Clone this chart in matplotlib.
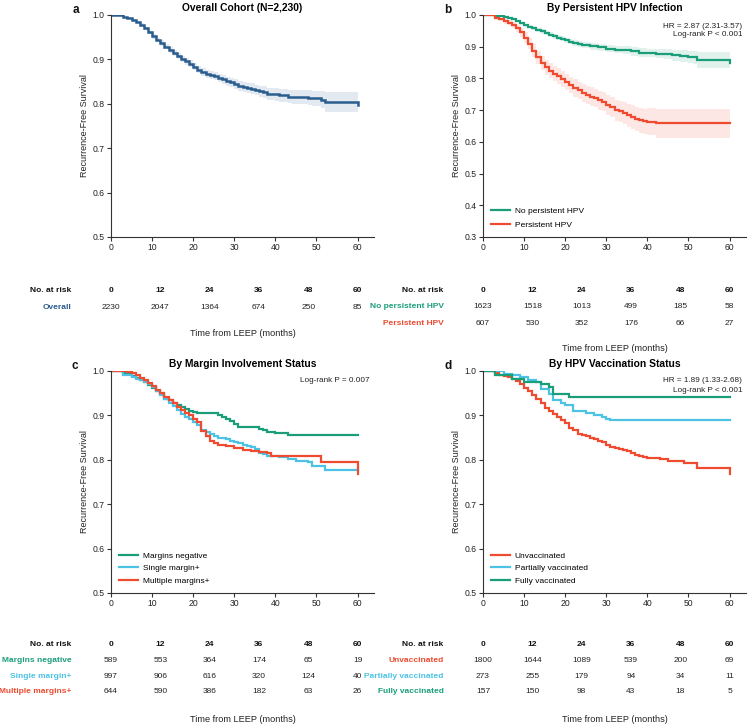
import matplotlib
matplotlib.use("Agg")
import matplotlib.pyplot as plt
from matplotlib.transforms import blended_transform_factory
import numpy as np

plt.rcParams['font.family'] = ['Liberation Sans', 'DejaVu Sans']

# ---------------- data ----------------
C_BLUE = "#2B5C8E"
C_GREEN = "#1A9E7A"
C_RED = "#EE4B30"
C_LBLUE = "#4CC2E4"

# Panel a: overall
t_a = [0, 3, 4, 5, 6, 7, 8, 9, 10, 11, 12, 13, 14, 15, 16, 17, 18, 19, 20, 21, 22, 23, 24, 25, 26, 27, 28,
       29, 30, 31, 32, 33, 34, 35, 36, 37, 38, 40, 41, 43, 44, 48, 49, 51, 52, 60, 60]
s_a = [1.0, .995, .993, .988, .984, .978, .970, .961, .952, .944, .937, .929, .921, .915, .908, .901, .896,
       .890, .884, .877, .871, .868, .865, .862, .858, .855, .851, .848, .844, .840, .838, .836, .834, .831,
       .828, .826, .822, .821, .819, .816, .815, .814, .812, .809, .804, .804, .797]
ci_a = [0, .001, .002, .002, .003, .003, .004, .004, .005, .005, .006, .006, .006, .007, .007, .007, .008,
        .008, .008, .008, .009, .009, .009, .009, .010, .010, .010, .010, .011, .011, .011, .011, .012, .012,
        .012, .013, .013, .014, .014, .015, .015, .017, .017, .019, .023, .024, .033]

# Panel b: persistent HPV
t_b0 = [0, 3, 4, 5, 6, 7, 8, 9, 10, 11, 12, 13, 14, 15, 16, 17, 18, 19, 20, 21, 22, 23, 24, 26, 28, 30, 32,
        34, 36, 38, 40, 42, 44, 46, 48, 50, 51, 52, 60, 60]
s_b0 = [1.0, .998, .996, .994, .991, .987, .981, .974, .967, .963, .958, .952, .948, .944, .938, .933, .929,
        .925, .920, .916, .911, .908, .906, .902, .898, .894, .891, .889, .885, .881, .880, .878, .876, .873,
        .871, .868, .866, .858, .858, .848]
ci_b0 = [0, .001, .002, .002, .003, .003, .004, .004, .005, .005, .006, .006, .007, .007, .007, .008, .008,
         .008, .009, .009, .010, .010, .010, .011, .011, .012, .012, .013, .013, .014, .014, .015, .016, .017,
         .018, .019, .020, .025, .026, .036]
t_b1 = [0, 3, 4, 5, 6, 7, 8, 9, 10, 11, 12, 13, 14, 15, 16, 17, 18, 19, 20, 21, 22, 23, 24, 25, 26, 27, 28,
        29, 30, 31, 32, 33, 34, 35, 36, 37, 38, 39, 40, 42, 60]
s_b1 = [1.0, .992, .986, .980, .975, .968, .958, .945, .929, .910, .888, .866, .848, .835, .824, .815, .807,
        .798, .788, .779, .770, .762, .755, .748, .743, .738, .731, .726, .717, .710, .700, .696, .690, .684,
        .678, .672, .668, .665, .664, .658, .658]
ci_b1 = [0, .004, .006, .007, .008, .010, .012, .014, .016, .018, .020, .021, .022, .023, .024, .024, .025,
         .025, .026, .026, .027, .027, .028, .028, .029, .029, .030, .030, .031, .032, .033, .034, .035, .036,
         .037, .038, .039, .040, .042, .047, .047]

# Panel c: margin status
t_c0 = [0, 3, 5, 6, 7, 8, 9, 10, 11, 12, 13, 14, 15, 16, 17, 18, 19, 20, 21, 26, 27, 28, 29, 30, 31, 36, 37,
        38, 40, 43, 60]
s_c0 = [1.0, .995, .988, .985, .980, .975, .969, .962, .955, .949, .937, .934, .928, .923, .919, .915, .911,
        .908, .906, .900, .896, .891, .887, .880, .874, .870, .866, .863, .860, .856, .856]
t_c1 = [0, 3, 5, 6, 7, 8, 9, 10, 11, 12, 13, 14, 15, 16, 17, 18, 19, 20, 21, 22, 23, 24, 25, 26, 27, 28, 29,
        30, 31, 32, 33, 34, 35, 36, 37, 38, 41, 43, 45, 48, 49, 52, 60]
s_c1 = [1.0, .992, .986, .983, .979, .975, .970, .963, .955, .946, .938, .929, .921, .912, .903, .896, .891,
        .886, .879, .868, .863, .857, .853, .850, .848, .846, .843, .841, .838, .834, .831, .828, .825, .816,
        .812, .808, .806, .801, .797, .795, .787, .778, .778]
t_c2 = [0, 4, 5, 6, 7, 8, 9, 10, 11, 12, 13, 14, 15, 16, 17, 18, 19, 20, 21, 22, 23, 24, 25, 26, 28, 30, 32,
        34, 36, 38, 39, 51, 60, 60]
s_c2 = [1.0, .997, .995, .991, .985, .979, .973, .966, .958, .950, .942, .934, .927, .919, .913, .906, .900,
        .893, .885, .865, .853, .843, .837, .834, .830, .827, .822, .819, .817, .815, .808, .795, .795, .768]

# Panel d: vaccination status
t_d0 = [0, 3, 7, 10, 14, 16, 17, 21, 60]
s_d0 = [1.0, .990, .983, .975, .970, .964, .949, .941, .941]
t_d1 = [0, 5, 7, 9, 11, 13, 14, 16, 17, 19, 20, 22, 23, 25, 27, 29, 30, 31, 60]
s_d1 = [1.0, .994, .990, .986, .980, .975, .960, .949, .934, .928, .923, .911, .909, .905, .901, .896, .892,
        .889, .889]
t_d2 = [0, 3, 4, 5, 6, 7, 8, 9, 10, 11, 12, 13, 14, 15, 16, 17, 18, 19, 20, 21, 22, 23, 24, 25, 26, 27, 28,
        29, 30, 31, 32, 33, 34, 35, 36, 37, 38, 39, 40, 43, 45, 49, 52, 60, 60]
s_d2 = [1.0, .995, .992, .989, .986, .982, .977, .970, .962, .954, .946, .937, .929, .917, .910, .903, .896,
        .889, .882, .872, .866, .859, .856, .853, .849, .846, .843, .839, .833, .829, .827, .825, .822, .819,
        .815, .811, .809, .806, .803, .801, .798, .792, .782, .782, .769]

risk_times = [0, 12, 24, 36, 48, 60]
risk_a = {"Overall": [2230, 2047, 1364, 674, 250, 85]}
risk_b = {"No persistent HPV": [1623, 1518, 1013, 499, 185, 58],
          "Persistent HPV": [607, 530, 352, 176, 66, 27]}
risk_c = {"Margins negative": [589, 553, 364, 174, 65, 19],
          "Single margin+": [997, 906, 616, 320, 124, 40],
          "Multiple margins+": [644, 590, 386, 182, 63, 26]}
risk_d = {"Unvaccinated": [1800, 1644, 1089, 539, 200, 69],
          "Partially vaccinated": [273, 255, 179, 94, 34, 11],
          "Fully vaccinated": [157, 150, 98, 43, 18, 5]}

# ---------------- figure ----------------
W, H = 753, 727
fig = plt.figure(figsize=(W / 100, H / 100), dpi=100)

def px_ax(left, top, right, bottom):
    return fig.add_axes([left / W, 1 - bottom / H, (right - left) / W, (bottom - top) / H])

TICK_FS = 6.2
SPINE_C = "#333333"

def style(ax, ylo, yticks):
    ax.set_xlim(0, 64)
    ax.set_ylim(ylo, 1.0)
    ax.set_xticks([0, 10, 20, 30, 40, 50, 60])
    ax.set_yticks(yticks)
    ax.set_yticklabels([f"{v:.1f}" for v in yticks])
    for s in ["top", "right"]:
        ax.spines[s].set_visible(False)
    for s in ["left", "bottom"]:
        ax.spines[s].set_color(SPINE_C)
        ax.spines[s].set_linewidth(0.8)
    ax.tick_params(axis="both", labelsize=TICK_FS, length=3, width=0.8, color=SPINE_C,
                   labelcolor="#222222", pad=1.5)
    ax.set_ylabel("Recurrence-Free Survival", fontsize=6.5, color="#222222", labelpad=2.5)

def km(ax, t, s, color, label=None, ci=None, lw=1.6):
    t = np.asarray(t, float)
    s = np.asarray(s, float)
    if ci is not None:
        ci = np.asarray(ci, float)
        ax.fill_between(t, s - ci, s + ci, step="post", color=color, alpha=0.13, lw=0)
    ax.step(t, s, where="post", color=color, lw=lw, label=label, solid_joinstyle="miter")

def risk_table(ax, rows, colors, y_header_px, dy_px, xlabel_gap_px):
    tr = blended_transform_factory(ax.transData, fig.transFigure)
    yh = 1 - y_header_px / H
    fig.text(-9.6, yh, "No. at risk", transform=tr, ha="right", va="center",
             fontsize=6, fontweight="bold", color="#111111")
    for tt in risk_times:
        fig.text(tt, yh, str(tt), transform=tr, ha="center", va="center",
                 fontsize=6, fontweight="bold", color="#111111")
    y = y_header_px
    for (name, vals), col in zip(rows.items(), colors):
        y += dy_px
        yy = 1 - y / H
        fig.text(-9.6, yy, name, transform=tr, ha="right", va="center",
                 fontsize=6, fontweight="bold", color=col)
        for tt, v in zip(risk_times, vals):
            fig.text(tt, yy, str(v), transform=tr, ha="center", va="center",
                     fontsize=6, color="#222222")
    y += xlabel_gap_px
    fig.text(32, 1 - y / H, "Time from LEEP (months)", transform=tr, ha="center",
             va="center", fontsize=6.6, color="#222222")

def note(ax, lines, top_px):
    for i, ln in enumerate(lines):
        ax.text(0.985, 1 - (top_px + i * 9) / 222, ln, transform=ax.transAxes, ha="right",
                va="center", fontsize=5.9, color="#222222")

TITLE_KW = dict(fontsize=7.4, fontweight="bold", pad=3)
LEG_KW = dict(loc="lower left", frameon=False, fontsize=6, handlelength=2.2, handletextpad=0.6,
              borderaxespad=0.6, labelspacing=0.55)

# Panel a
ax_a = px_ax(111, 15, 374, 237)
km(ax_a, t_a, s_a, C_BLUE, ci=ci_a, lw=1.8)
style(ax_a, 0.5, [0.5, 0.6, 0.7, 0.8, 0.9, 1.0])
ax_a.set_title("Overall Cohort (N=2,230)", **TITLE_KW)
risk_table(ax_a, risk_a, [C_BLUE], 290, 17, 26)

# Panel b
ax_b = px_ax(483, 15, 746, 237)
km(ax_b, t_b0, s_b0, C_GREEN, label="No persistent HPV", ci=ci_b0)
km(ax_b, t_b1, s_b1, C_RED, label="Persistent HPV", ci=ci_b1)
style(ax_b, 0.3, [0.3, 0.4, 0.5, 0.6, 0.7, 0.8, 0.9, 1.0])
ax_b.set_title("By Persistent HPV Infection", **TITLE_KW)
ax_b.legend(**{**LEG_KW, "labelspacing": 0.7})
note(ax_b, ["HR = 2.87 (2.31-3.57)", "Log-rank P < 0.001"], 11)
risk_table(ax_b, risk_b, [C_GREEN, C_RED], 290, 16.5, 26)

# Panel c
ax_c = px_ax(111, 371, 374, 593)
km(ax_c, t_c0, s_c0, C_GREEN, label="Margins negative")
km(ax_c, t_c1, s_c1, C_LBLUE, label="Single margin+")
km(ax_c, t_c2, s_c2, C_RED, label="Multiple margins+")
style(ax_c, 0.5, [0.5, 0.6, 0.7, 0.8, 0.9, 1.0])
ax_c.set_title("By Margin Involvement Status", **TITLE_KW)
ax_c.legend(**LEG_KW)
note(ax_c, ["Log-rank P = 0.007"], 10)
risk_table(ax_c, risk_c, [C_GREEN, C_LBLUE, C_RED], 645, 15.5, 28)

# Panel d
ax_d = px_ax(483, 371, 746, 593)
km(ax_d, t_d2, s_d2, C_RED, label="Unvaccinated")
km(ax_d, t_d1, s_d1, C_LBLUE, label="Partially vaccinated")
km(ax_d, t_d0, s_d0, C_GREEN, label="Fully vaccinated")
style(ax_d, 0.5, [0.5, 0.6, 0.7, 0.8, 0.9, 1.0])
ax_d.set_title("By HPV Vaccination Status", **TITLE_KW)
ax_d.legend(**LEG_KW)
note(ax_d, ["HR = 1.89 (1.33-2.68)", "Log-rank P < 0.001"], 10)
risk_table(ax_d, risk_d, [C_RED, C_LBLUE, C_GREEN], 645, 15.5, 28)

# Panel letters
for letter, (x, y) in zip("abcd", [(76, 10), (448, 10), (75, 366), (448, 366)]):
    fig.text(x / W, 1 - y / H, letter, ha="center", va="center", fontsize=8.5,
             fontweight="bold", color="#111111")

fig.savefig("out.png", dpi=100)
